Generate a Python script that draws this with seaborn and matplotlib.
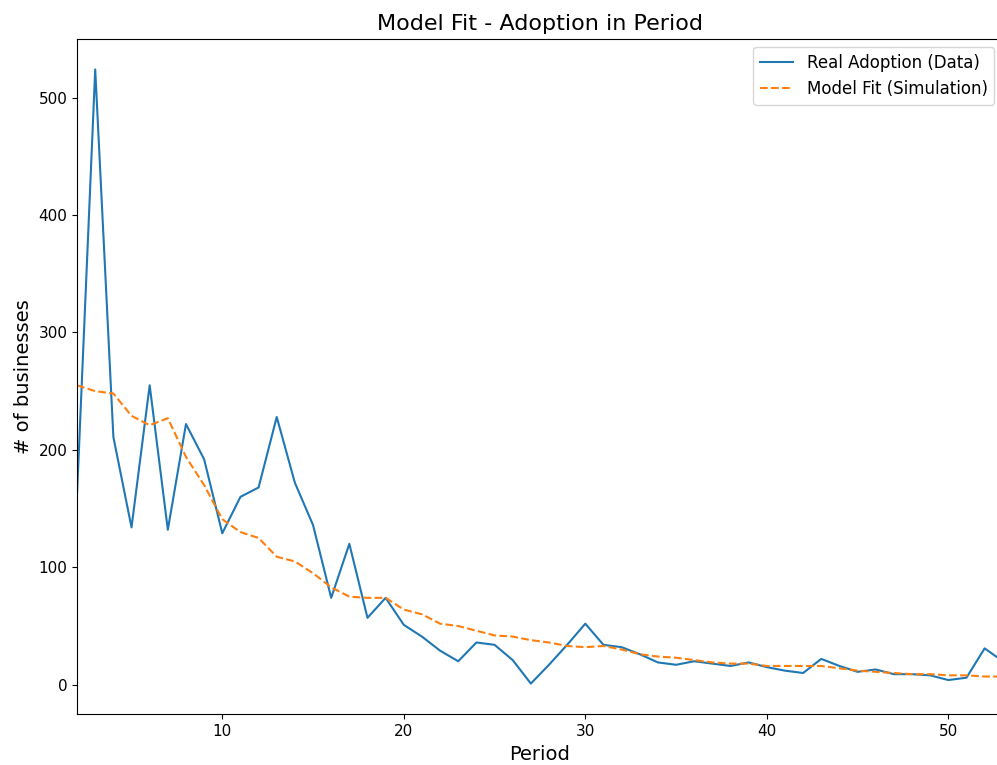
import numpy as np
import pandas as pd
import matplotlib
matplotlib.use("Agg")
import matplotlib.pyplot as plt
import seaborn as sns

###############################################################################
# Data
###############################################################################

periods = list(range(2, 54))

real_adoption = [
    163, 524, 211, 134, 255, 132, 222, 192, 129, 160,
    168, 228, 172, 136, 74, 120, 57, 74, 51, 41,
    29, 20, 36, 34, 21, 1, 17, 34, 52, 34,
    32, 26, 19, 17, 20, 18, 16, 19, 15, 12,
    10, 22, 16, 11, 13, 9, 9, 8, 4, 6,
    31, 20,
]

model_fit = [
    255, 250, 248, 229, 221, 227, 194, 170, 141, 130,
    125, 109, 105, 95, 83, 75, 74, 74, 64, 60,
    52, 50, 46, 42, 41, 38, 36, 33, 32, 33,
    30, 26, 24, 23, 21, 19, 18, 18, 16, 16,
    16, 16, 14, 12, 11, 10, 9, 9, 8, 8,
    7, 7,
]

###############################################################################
# Plot
###############################################################################

df = pd.DataFrame({"period": periods, "real": real_adoption, "model": model_fit})

fig = plt.figure(figsize=(9.97, 7.65), dpi=100)
# right edge of the axes sits just past the figure, like the cropped original
ax = fig.add_axes([0.0773, 0.0663, 0.9285, 0.8831])

sns.lineplot(data=df, x="period", y="real", ax=ax, color="tab:blue",
             linewidth=1.5, label="Real Adoption (Data)")
sns.lineplot(data=df, x="period", y="model", ax=ax, color="tab:orange",
             linewidth=1.5, linestyle="--", label="Model Fit (Simulation)")

ax.set_xlim(2, 53)
ax.set_title("Model Fit - Adoption in Period", fontsize=16)
ax.set_xlabel("Period", fontsize=14)
ax.set_ylabel("# of businesses", fontsize=14)
ax.tick_params(labelsize=11)
ax.legend(loc="upper right", fontsize=12)

plt.savefig("out.png", dpi=100)
